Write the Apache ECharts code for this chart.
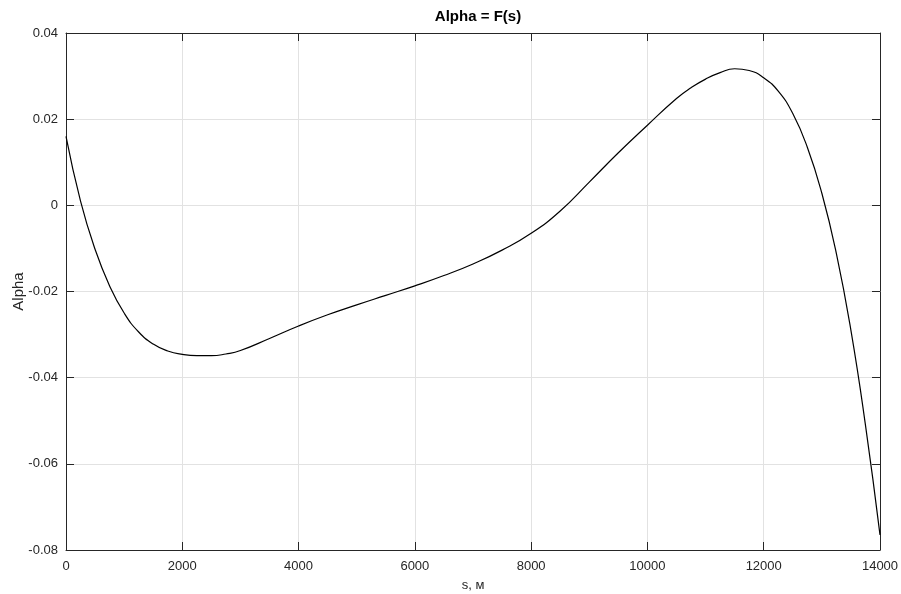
<!DOCTYPE html>
<html>
<head>
<meta charset="utf-8">
<script src="https://cdn.jsdelivr.net/npm/echarts@6/dist/echarts.min.js"></script>
<style>
  html, body { margin: 0; padding: 0; background: #fff; }
  #chart { width: 901px; height: 594px; }
</style>
</head>
<body>
<div id="chart"></div>
<script>
// distance along the path, m
const sValues = [
  0, 250, 500, 750, 1000, 1250, 1500, 1750, 2000, 2250, 2500, 2750, 3000,
  3500, 4000, 4500, 5000, 5500, 6000, 6500, 7000, 7500, 8000, 8500, 9000,
  9500, 10000, 10500, 10750, 11000, 11250, 11500, 11750, 12000, 12250, 12500, 12750,
  13000, 13250, 13500, 13750, 14000
];
// Alpha
const alphaValues = [
  0.0160, 0.0010, -0.0102, -0.0187, -0.0250, -0.0294, -0.0322, -0.0338, -0.0346, -0.0349, -0.0349, -0.0345, -0.0337,
  -0.0309, -0.0280, -0.0254, -0.0231, -0.0209, -0.0187, -0.0163, -0.0136, -0.0104, -0.0065, -0.0013, 0.0054,
  0.0122, 0.0186, 0.0248, 0.0273, 0.0293, 0.0308, 0.0317, 0.0313, 0.0296, 0.0265, 0.0213, 0.0135,
  0.0028, -0.0112, -0.0290, -0.0510, -0.0765
];

const axisColor = '#262626';
const gridColor = '#e2e2e2';
const fontFamily = '"Liberation Sans", Arial, sans-serif';

const chart = echarts.init(document.getElementById('chart'), null, { renderer: 'canvas' });

const baseX = {
  type: 'value',
  min: 0,
  max: 14000,
  interval: 2000,
  axisLine: { show: true, onZero: false, lineStyle: { color: axisColor, width: 1 } },
  axisTick: { show: true, inside: true, length: 8, lineStyle: { color: axisColor } }
};
const baseY = {
  type: 'value',
  min: -0.08,
  max: 0.04,
  interval: 0.02,
  axisLine: { show: true, onZero: false, lineStyle: { color: axisColor, width: 1 } },
  axisTick: { show: true, inside: true, length: 8, lineStyle: { color: axisColor } }
};

chart.setOption({
  animation: false,
  backgroundColor: '#fff',
  title: {
    text: 'Alpha = F(s)',
    left: 473,
    textAlign: 'center',
    top: 4,
    textStyle: { fontFamily, fontSize: 15, fontWeight: 'bold', color: '#000' }
  },
  grid: { left: 66, right: 21, top: 33, bottom: 44, containLabel: false, outerBoundsMode: 'none' },
  xAxis: [
    Object.assign({}, baseX, {
      position: 'bottom',
      name: 's, м',
      nameLocation: 'middle',
      nameGap: 29,
      nameTextStyle: { fontFamily, fontSize: 13, color: axisColor },
      axisLabel: { fontFamily, fontSize: 13, color: axisColor, margin: 10, formatter: v => String(v) },
      splitLine: { show: true, lineStyle: { color: gridColor, width: 1 } }
    }),
    Object.assign({}, baseX, {
      position: 'top',
      axisLabel: { show: false },
      splitLine: { show: false }
    })
  ],
  yAxis: [
    Object.assign({}, baseY, {
      position: 'left',
      name: 'Alpha',
      nameLocation: 'middle',
      nameGap: 40,
      nameMoveOverlap: false,
      nameTextStyle: { fontFamily, fontSize: 15, color: axisColor },
      axisLabel: {
        fontFamily, fontSize: 13, color: axisColor, margin: 8,
        formatter: v => (Math.abs(v) < 1e-9 ? '0' : v.toFixed(2))
      },
      splitLine: { show: true, lineStyle: { color: gridColor, width: 1 } }
    }),
    Object.assign({}, baseY, {
      position: 'right',
      axisLabel: { show: false },
      splitLine: { show: false }
    })
  ],
  series: [
    {
      type: 'line',
      xAxisIndex: 0,
      yAxisIndex: 0,
      data: sValues.map((s, i) => [s, alphaValues[i]]),
      smooth: 0.5,
      showSymbol: false,
      lineStyle: { color: '#000', width: 1.2 },
      itemStyle: { color: '#000' }
    }
  ]
});
</script>
</body>
</html>
